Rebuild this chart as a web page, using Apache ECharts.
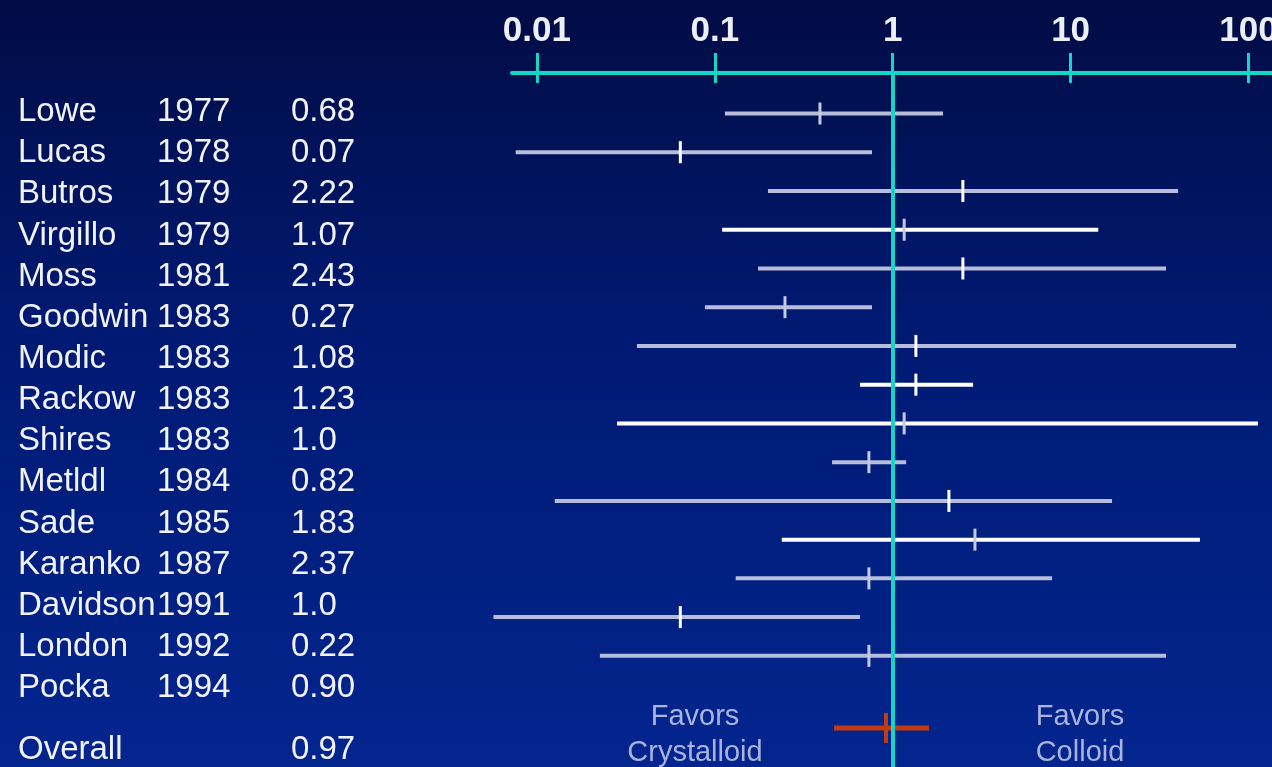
<!DOCTYPE html>
<html>
<head>
<meta charset="utf-8">
<script src="https://cdn.jsdelivr.net/npm/echarts@6/dist/echarts.min.js"></script>
<style>
html,body{margin:0;padding:0;background:#010f4c;}
#chart{width:1272px;height:767px;}
</style>
</head>
<body>
<div id="chart"></div>
<script>
// ---- data ----
const studies = ['Lowe','Lucas','Butros','Virgillo','Moss','Goodwin','Modic','Rackow','Shires','Metldl','Sade','Karanko','Davidson','London','Pocka'];
const years = ['1977','1978','1979','1979','1981','1983','1983','1983','1983','1984','1985','1987','1991','1992','1994'];
const oddsText = ['0.68','0.07','2.22','1.07','2.43','0.27','1.08','1.23','1.0','0.82','1.83','2.37','1.0','0.22','0.90'];
const ciLow = [0.114,0.0076,0.199,0.110,0.175,0.088,0.0365,0.655,0.0282,0.456,0.0126,0.238,0.131,0.0057,0.0226];
const pointEst = [0.39,0.064,2.48,1.16,2.48,0.248,1.35,1.35,1.16,0.735,2.07,2.90,0.735,0.064,0.735];
const ciHigh = [1.92,0.765,40.2,14.3,34.4,0.765,85.1,2.83,113,1.19,17.1,53.3,7.87,0.655,34.4];
const overallLabel = 'Overall';
const overallText = '0.97';
const overallLow = 0.468;
const overallPoint = 0.917;
const overallHigh = 1.60;
const tickValues = [0.01, 0.1, 1, 10, 100];
const tickLabels = ['0.01', '0.1', '1', '10', '100'];
const favorLeft = 'Favors\nCrystalloid';
const favorRight = 'Favors\nColloid';
// style tones per row (w = white, g = grey)
const lineTone = ['g','g','g','w','g','g','g','w','w','g','g','w','g','g','g'];
const tickTone = ['g','w','w','g','w','g','w','w','g','g','w','g','g','w','g'];

// ---- styling / layout ----
const TEAL = '#12d6c6';
const WHITE = '#ffffff';
const GREY = '#b7bdda';
const GREY_TICK = '#c4c9e2';
const RED = '#c23a12';
const TEXT = '#f2f3fa';
const FONT = '"Liberation Sans", Arial, sans-serif';
const OVERALL_ROW_GAP = 1.86;   // forest rows between last study and overall
const OVERALL_TEXT_GAP = 1.5;   // table rows between last study and overall

const chart = echarts.init(document.getElementById('chart'), null, {renderer: 'canvas'});
const tickLog = tickValues.map(v => Math.log10(v));
const fmt = v => {
  let best = 0;
  tickLog.forEach((t, i) => { if (Math.abs(t - v) < Math.abs(tickLog[best] - v)) best = i; });
  return tickLabels[best];
};

const lastRow = studies.length - 1;
const forestData = studies.map((s, i) => [Math.log10(ciLow[i]), Math.log10(pointEst[i]), Math.log10(ciHigh[i]), i]);
const overallData = [[Math.log10(overallLow), Math.log10(overallPoint), Math.log10(overallHigh), lastRow + OVERALL_ROW_GAP]];
const tableData = studies.map((s, i) => [0, i]).concat([[0, lastRow + OVERALL_TEXT_GAP]]);

function forestItem(lineColor, tickColor, lw, tw, th) {
  return function (params, api) {
    const y = api.value(3);
    const a = api.coord([api.value(0), y]);
    const b = api.coord([api.value(2), y]);
    const c = api.coord([api.value(1), y]);
    const lc = typeof lineColor === 'function' ? lineColor(params.dataIndex) : lineColor;
    const tc = typeof tickColor === 'function' ? tickColor(params.dataIndex) : tickColor;
    return {
      type: 'group',
      children: [
        {type: 'line', shape: {x1: a[0], y1: a[1], x2: b[0], y2: b[1]}, style: {stroke: lc, lineWidth: lw}},
        {type: 'line', shape: {x1: c[0], y1: c[1] - th, x2: c[0], y2: c[1] + th}, style: {stroke: tc, lineWidth: tw}}
      ]
    };
  };
}

const NAME_X = 18, YEAR_X = 157, VAL_X = 291;

const option = {
  backgroundColor: {
    type: 'linear', x: 0, y: 0, x2: 0, y2: 1,
    colorStops: [
      {offset: 0, color: '#010c44'},
      {offset: 0.45, color: '#001a74'},
      {offset: 1, color: '#03258e'}
    ]
  },
  animation: false,
  grid: [
    {left: 512, right: 0, top: 73, bottom: 0, containLabel: false, outerBoundsMode: 'none'},
    {left: 0, width: 500, top: 73, bottom: 0, containLabel: false, outerBoundsMode: 'none'}
  ],
  xAxis: [
    {
      gridIndex: 0, type: 'value', position: 'top', min: -2.14, max: 2.1321,
      axisLine: {show: true, onZero: false, lineStyle: {color: TEAL, width: 4}},
      axisTick: {show: true, customValues: tickLog, length: 20, lineStyle: {color: TEAL, width: 3}},
      axisLabel: {show: true, customValues: tickLog, formatter: fmt, margin: 24, color: '#eceef8',
        fontFamily: FONT, fontSize: 35, fontWeight: 'bold', hideOverlap: false},
      splitLine: {show: false}
    },
    {
      gridIndex: 0, type: 'value', position: 'top', min: -2.14, max: 2.1321,
      axisLine: {show: false, onZero: false},
      axisTick: {show: true, inside: true, customValues: tickLog, length: 10, lineStyle: {color: TEAL, width: 3}},
      axisLabel: {show: false},
      splitLine: {show: false}
    },
    {gridIndex: 1, type: 'value', min: 0, max: 1, show: false}
  ],
  yAxis: [
    {gridIndex: 0, type: 'value', inverse: true, min: -1.045, max: 16.869, show: false},
    {gridIndex: 1, type: 'value', inverse: true, min: -0.948, max: 15.92, show: false}
  ],
  series: [
    {
      type: 'custom', xAxisIndex: 0, yAxisIndex: 0, clip: false, z: 2,
      renderItem: forestItem(i => lineTone[i] === 'w' ? WHITE : GREY, i => tickTone[i] === 'w' ? WHITE : GREY_TICK, 4, 3, 11),
      data: forestData
    },
    {
      type: 'custom', xAxisIndex: 0, yAxisIndex: 0, clip: false, z: 3,
      renderItem: forestItem(RED, RED, 5, 4, 15),
      data: overallData,
      markLine: {
        silent: true, symbol: ['none', 'none'], label: {show: false},
        lineStyle: {color: TEAL, width: 4, type: 'solid'},
        data: [{xAxis: 0}]
      }
    },
    {
      type: 'custom', xAxisIndex: 2, yAxisIndex: 1, clip: false, z: 2,
      renderItem: function (params, api) {
        const p = api.coord([0, api.value(1)]);
        const i = params.dataIndex;
        const isOverall = i >= studies.length;
        const name = isOverall ? overallLabel : studies[i];
        const yr = isOverall ? '' : years[i];
        const val = isOverall ? overallText : oddsText[i];
        const mk = (x, t) => ({
          type: 'text', x: x, y: p[1],
          style: {text: t, fill: TEXT, font: '33px ' + FONT, textAlign: 'left', align: 'left',
            textVerticalAlign: 'middle', verticalAlign: 'middle'}
        });
        return {type: 'group', children: [mk(NAME_X, name), mk(YEAR_X, yr), mk(VAL_X, val)]};
      },
      data: tableData
    }
  ],
  graphic: [
    {type: 'text', x: 695, y: 735, style: {text: favorLeft, fill: '#a9b3dd', font: '29px ' + FONT,
      textAlign: 'center', align: 'center', textVerticalAlign: 'middle', verticalAlign: 'middle', lineHeight: 36}},
    {type: 'text', x: 1080, y: 735, style: {text: favorRight, fill: '#a9b3dd', font: '29px ' + FONT,
      textAlign: 'center', align: 'center', textVerticalAlign: 'middle', verticalAlign: 'middle', lineHeight: 36}}
  ]
};
chart.setOption(option);
</script>
</body>
</html>
